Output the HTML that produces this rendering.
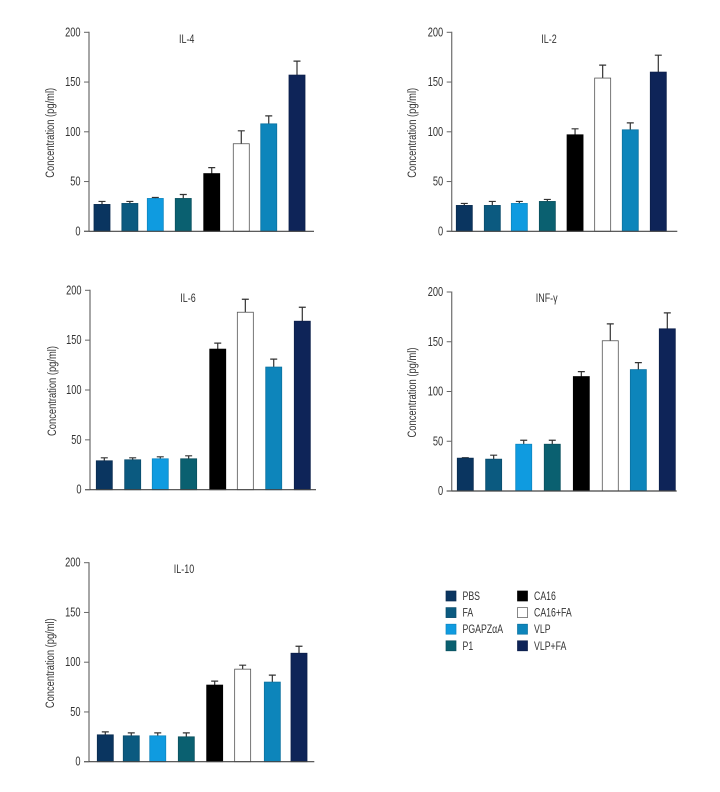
<!DOCTYPE html>
<html lang="en">
<head>
<meta charset="utf-8">
<title>Cytokine concentrations</title>
<style>
html,body{margin:0;padding:0;background:#fff;width:720px;height:792px;overflow:hidden}
svg{display:block}
text{font-family:"Liberation Sans",sans-serif;fill:#333}
</style>
</head>
<body>
<svg id="figure" width="720" height="792" viewBox="0 0 720 792" xmlns="http://www.w3.org/2000/svg"></svg>
<script>
const categories = ["PBS","FA","PGAPZαA","P1","CA16","CA16+FA","VLP","VLP+FA"];
const yTicks = [0,50,100,150,200];
const il4Values = [27,28,33,33,58,88,108,157];
const il4Upper = [30,30,34,37,64,101,116,171];
const il2Values = [26,26,28,30,97,154,102,160];
const il2Upper = [28,30,30,32,103,167,109,177];
const il6Values = [29,30,31,31,141,178,123,169];
const il6Upper = [32,32,33,34,147,191,131,183];
const infValues = [33,32,47,47,115,151,122,163];
const infUpper = [33.5,36,51,51,120,168,129,179];
const il10Values = [27,26,26,25,77,93,80,109];
const il10Upper = [30,29,29,29,81,97,87,116];

const barFill = ["#0a3560","#0b5a80","#0f9be0","#0a6070","#000000","#ffffff","#0d85bb","#0e2458"];
const barEdge = ["#0a2c50","#0a4c6c","#0d86c0","#0a505e","#000000","#555555","#0c72a0","#0c1e4a"];

const panels = [
  {id:"il-4",title:"IL-4",values:il4Values,upper:il4Upper,ax:89,top:32.3,bottom:231.3,end:314,first:102,last:297,nudge:[0,0,-2.4,-2.3,-1.7,0,-.4,0],tx:186.7,ty:43,lx:50},
  {id:"il-2",title:"IL-2",values:il2Values,upper:il2Upper,ax:451.7,top:32.3,bottom:231.3,end:677.3,first:464.3,last:658.3,nudge:[0,.3,-.4,-.1,-.1,-.2,-.3,0],tx:549,ty:43,lx:412},
  {id:"il-6",title:"IL-6",values:il6Values,upper:il6Upper,ax:90,top:290.3,bottom:489.7,end:316,first:104.3,last:302.3,nudge:[0,.1,-.6,-.5,.3,-.4,-.3,0],tx:188,ty:302,lx:52},
  {id:"inf-gamma",title:"INF-γ",values:infValues,upper:infUpper,ax:451.7,top:292,bottom:491,end:676.7,first:465.3,last:667.3,nudge:[0,-.5,.7,.4,.6,.7,-.1,0],tx:546.7,ty:302,lx:412},
  {id:"il-10",title:"IL-10",values:il10Values,upper:il10Upper,ax:89,top:562.7,bottom:761.7,end:314.3,first:105.3,last:299,nudge:[0,-1.7,-2.9,-2,-1.3,-1,1,0],tx:184,ty:573,lx:50}
];

const svg = document.getElementById("figure");
const NS = "http://www.w3.org/2000/svg";
function make(tag, parent, attrs, content){
  const n = document.createElementNS(NS, tag);
  for(const k in attrs){ n.setAttribute(k, attrs[k]); }
  if(content !== undefined){ n.textContent = content; }
  parent.appendChild(n);
  return n;
}
function squeezed(x, y, sx){
  return "translate(" + x + " " + y + ") scale(" + sx + " 1)";
}

panels.forEach(function(p){
  const yScale = function(v){ return p.bottom - (v/200)*(p.bottom - p.top); };
  const step = (p.last - p.first)/(categories.length - 1);
  const xScale = function(i){ return p.first + i*step + p.nudge[i]; };
  const barW = 16;

  const g = make("g", svg, {});
  
  

  const title = make("text", g, {"text-anchor":"middle", "font-size":11.5, transform:squeezed(p.tx, p.ty, 0.78)}, p.title);
  
  

  const ylab = make("text", g, {"text-anchor":"middle", "font-size":12,
    transform:"translate(" + (p.lx+4) + " " + ((p.top+p.bottom)/2 + 1) + ") rotate(-90) scale(0.78 1)"}, "Concentration (pg/ml)");
  
  

  categories.forEach(function(c, i){
    const cx = xScale(i);
    const yv = yScale(p.values[i]);
    const yu = yScale(p.upper[i]);
    const err = make("path", g, {d:"M"+cx+" "+yv+"V"+yu+"M"+(cx-3.5)+" "+yu+"H"+(cx+3.5), stroke:"#333", "stroke-width":1.2, fill:"none"});
    
    
    const bar = make("rect", g, {x:cx-barW/2, y:yv, width:barW, height:p.bottom-yv, fill:barFill[i], stroke:barEdge[i], "stroke-width":0.8});
    
    
  });

  const yAxis = make("line", g, {x1:p.ax, x2:p.ax, y1:p.top-0.5, y2:p.bottom, stroke:"#777", "stroke-width":1.3});
  
  
  const xAxis = make("line", g, {x1:p.ax-5, x2:p.end, y1:p.bottom, y2:p.bottom, stroke:"#444", "stroke-width":1.2});
  
  

  yTicks.forEach(function(t){
    const y = yScale(t);
    const tick = make("line", g, {x1:p.ax-5, x2:p.ax, y1:y, y2:y, stroke:"#666", "stroke-width":1});
    
    
    const lab = make("text", g, {"text-anchor":"end", "font-size":12.5, transform:squeezed(p.ax-8.5, y+4, 0.74)}, String(t));
    
    
  });
});

const legend = make("g", svg, {});


categories.forEach(function(c, i){
  const col = i < 4 ? 0 : 1;
  const row = i % 4;
  const sx = col === 0 ? 446 : 517.5;
  const cy = 596 + row*16.6;
  const entry = make("g", legend, {});
  
  
  const sw = make("rect", entry, {x:sx, y:cy-5, width:10, height:10, fill:barFill[i], stroke:barEdge[i], "stroke-width":0.7});
  
  
  const tx = make("text", entry, {"font-size":12, transform:squeezed(sx+16.5, cy+4, 0.73)}, c);
  
  
});
</script>
</body>
</html>
